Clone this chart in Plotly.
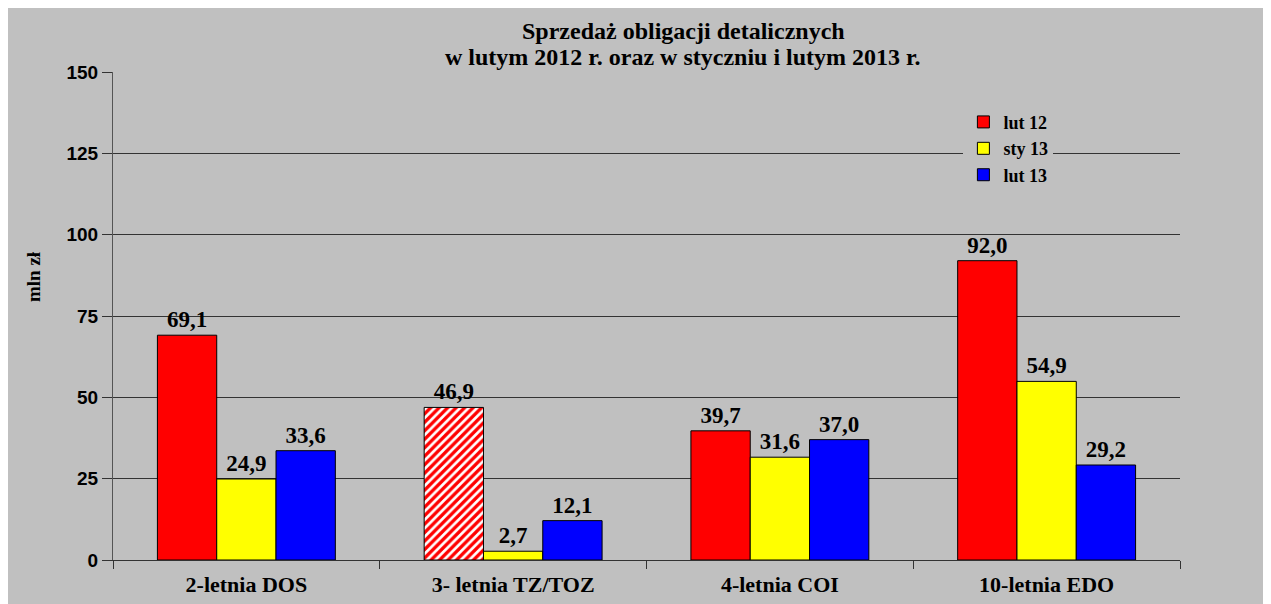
import plotly.graph_objects as go

categories = ["2-letnia DOS", "3- letnia TZ/TOZ", "4-letnia COI", "10-letnia EDO"]
lut12 = [69.1, 46.9, 39.7, 92.0]
sty13 = [24.9, 2.7, 31.6, 54.9]
lut13 = [33.6, 12.1, 37.0, 29.2]
series_names = ["lut 12", "sty 13", "lut 13"]
y_ticks = [0, 25, 50, 75, 100, 125, 150]
title_lines = ["Sprzedaż obligacji detalicznych", "w lutym 2012 r. oraz w styczniu i lutym 2013 r."]

def fmt(v):
    return f"{v:.1f}".replace(".", ",")

serif = "Liberation Serif, Times New Roman, serif"
sans = "Liberation Sans, Arial, sans-serif"
fig = go.Figure()
colors = ["#FF0000", "#FFFF00", "#0000FF"]
for name, vals, col in zip(series_names, [lut12, sty13, lut13], colors):
    marker = dict(color=col, line=dict(color="#000000", width=1))
    if name == "lut 12":
        marker["pattern"] = dict(shape=["", "/", "", ""], fgcolor="#FF0000",
                                 bgcolor="#FFFFFF", size=6, solidity=0.55,
                                 fillmode="replace")
    fig.add_trace(go.Bar(
        x=categories, y=vals, name="<b>" + name + "</b>", marker=marker,
        text=[fmt(v) for v in vals], texttemplate="<b>%{text}</b>",
        textposition="outside",
        textfont=dict(family=serif, size=23, color="#000000"),
        cliponaxis=False,
    ))

# title lines (page y 32 and 57 -> figure y 24 and 49)
for line, ypix in zip(title_lines, [23, 49]):
    fig.add_annotation(
        text="<b>%s</b>" % line,
        xref="paper", yref="paper", x=0.5345, y=1 + (64 - ypix) / 488,
        xanchor="center", yanchor="middle",
        showarrow=False, font=dict(family=serif, size=24, color="#000000"),
    )
fig.add_annotation(
    text="<b>mln zł</b>", textangle=-90,
    xref="paper", yref="paper", x=-0.074, y=0.58, xanchor="center", yanchor="middle",
    showarrow=False, font=dict(family=serif, size=19, color="#000000"),
)

fig.update_layout(
    width=1255, height=600,
    margin=dict(l=105, r=83, t=64, b=48),
    paper_bgcolor="#C0C0C0", plot_bgcolor="#C0C0C0",
    barmode="group", bargap=0.333, bargroupgap=0,
    legend=dict(x=0.797, y=0.935, xanchor="left", yanchor="top",
                bgcolor="#C0C0C0",
                font=dict(family=serif, size=18, color="#000000"),
                tracegroupgap=0, itemwidth=30),
    showlegend=True,
    xaxis=dict(type="category", showgrid=False, showline=True, linecolor="#333333",
               linewidth=1, ticks="outside", tickson="boundaries", ticklen=8,
               tickcolor="#333333", automargin=False,
               tickfont=dict(family=serif, size=22, color="#000000"),
               ticklabelstandoff=5),
    yaxis=dict(range=[0, 150], tickvals=y_ticks,
               ticktext=["<b>%d</b>" % v for v in y_ticks],
               showgrid=True, gridcolor="#333333", automargin=False,
               gridwidth=1, showline=True, linecolor="#555555", linewidth=1,
               ticks="outside", ticklen=10, tickcolor="#333333",
               tickfont=dict(family=sans, size=19, color="#000000"),
               zeroline=False),
)
fig.update_xaxes(tickvals=categories, ticktext=["<b>%s</b>" % c for c in categories])
fig.write_html("out.html")
